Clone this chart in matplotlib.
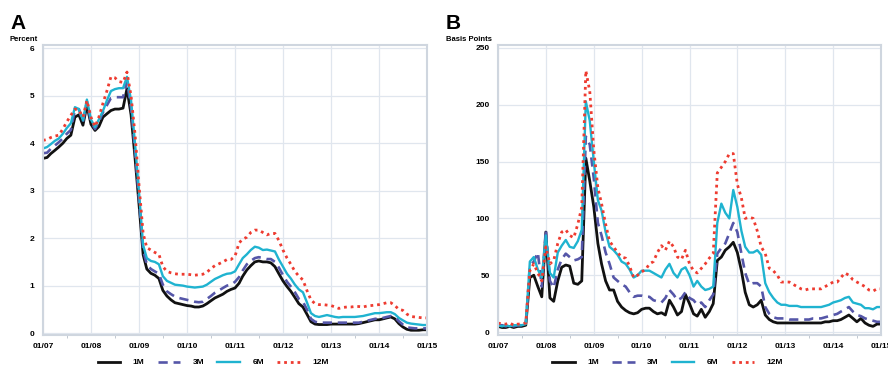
import numpy as np
import pandas as pd
import matplotlib
matplotlib.use("Agg")
import matplotlib.pyplot as plt
import matplotlib.dates as mdates

plt.rcParams['font.family'] = ['Liberation Sans', 'DejaVu Sans']

# monthly observations, Jan 2007 .. Jan 2015
dates = pd.date_range("2007-01-01", "2015-01-01", freq="MS")

# Panel A: rates, percent
a_1m = [3.68, 3.70, 3.78, 3.85, 3.92, 4.00, 4.10, 4.17, 4.55, 4.60, 4.38, 4.80,
        4.40, 4.27, 4.35, 4.55, 4.62, 4.69, 4.72, 4.72, 4.74, 5.15, 4.60, 3.70,
        2.70, 1.65, 1.35, 1.26, 1.22, 1.15, 0.90, 0.78, 0.70, 0.64, 0.62, 0.60,
        0.58, 0.57, 0.55, 0.55, 0.57, 0.62, 0.68, 0.74, 0.78, 0.82, 0.88, 0.92,
        0.95, 1.05, 1.20, 1.33, 1.42, 1.50, 1.52, 1.50, 1.50, 1.48, 1.40, 1.25,
        1.10, 0.98, 0.88, 0.75, 0.62, 0.55, 0.40, 0.24, 0.19, 0.18, 0.18, 0.18,
        0.19, 0.19, 0.19, 0.19, 0.19, 0.19, 0.19, 0.20, 0.22, 0.24, 0.26, 0.28,
        0.28, 0.30, 0.32, 0.34, 0.30, 0.20, 0.13, 0.08, 0.06, 0.06, 0.06, 0.07,
        0.07]
a_3m = [3.79, 3.80, 3.88, 3.95, 4.02, 4.10, 4.20, 4.28, 4.70, 4.72, 4.45, 4.88,
        4.45, 4.30, 4.45, 4.65, 4.80, 4.95, 4.97, 4.97, 4.97, 5.30, 4.75, 3.85,
        2.80, 1.75, 1.45, 1.35, 1.30, 1.25, 1.02, 0.88, 0.82, 0.77, 0.74, 0.72,
        0.70, 0.68, 0.66, 0.65, 0.66, 0.72, 0.78, 0.85, 0.90, 0.95, 1.00, 1.02,
        1.08, 1.18, 1.32, 1.45, 1.52, 1.58, 1.60, 1.58, 1.56, 1.56, 1.50, 1.38,
        1.22, 1.08, 0.98, 0.86, 0.72, 0.66, 0.50, 0.30, 0.24, 0.22, 0.22, 0.22,
        0.22, 0.22, 0.22, 0.22, 0.22, 0.22, 0.22, 0.22, 0.24, 0.26, 0.28, 0.30,
        0.31, 0.32, 0.34, 0.36, 0.34, 0.25, 0.18, 0.12, 0.11, 0.10, 0.10, 0.10,
        0.10]
a_6m = [3.89, 3.92, 3.98, 4.05, 4.10, 4.20, 4.32, 4.42, 4.76, 4.72, 4.48, 4.92,
        4.50, 4.34, 4.50, 4.68, 4.90, 5.10, 5.14, 5.16, 5.16, 5.40, 4.90, 4.00,
        2.95, 1.85, 1.58, 1.52, 1.50, 1.45, 1.20, 1.10, 1.06, 1.02, 1.01, 1.00,
        0.98, 0.97, 0.96, 0.97, 0.98, 1.02, 1.08, 1.14, 1.18, 1.22, 1.25, 1.26,
        1.30, 1.45, 1.58, 1.66, 1.75, 1.82, 1.80, 1.75, 1.76, 1.74, 1.72, 1.55,
        1.40, 1.25, 1.15, 1.02, 0.92, 0.86, 0.65, 0.42, 0.36, 0.34, 0.36, 0.38,
        0.36, 0.34, 0.33, 0.34, 0.34, 0.34, 0.34, 0.35, 0.36, 0.38, 0.40, 0.42,
        0.42, 0.43, 0.44, 0.44, 0.40, 0.32, 0.27, 0.22, 0.20, 0.19, 0.18, 0.17,
        0.17]
a_12m = [4.06, 4.08, 4.12, 4.15, 4.17, 4.30, 4.45, 4.59, 4.72, 4.70, 4.55, 4.90,
         4.55, 4.35, 4.55, 4.84, 5.10, 5.40, 5.38, 5.30, 5.28, 5.50, 5.00, 4.20,
         3.10, 2.10, 1.80, 1.75, 1.70, 1.66, 1.40, 1.30, 1.27, 1.25, 1.24, 1.24,
         1.24, 1.23, 1.22, 1.23, 1.24, 1.28, 1.36, 1.42, 1.46, 1.50, 1.55, 1.55,
         1.62, 1.90, 1.98, 2.02, 2.12, 2.17, 2.17, 2.12, 2.07, 2.10, 2.10, 1.95,
         1.75, 1.58, 1.45, 1.30, 1.20, 1.12, 0.90, 0.70, 0.62, 0.60, 0.60, 0.59,
         0.58, 0.55, 0.52, 0.54, 0.55, 0.55, 0.56, 0.56, 0.55, 0.57, 0.58, 0.59,
         0.60, 0.62, 0.64, 0.64, 0.58, 0.50, 0.48, 0.40, 0.35, 0.34, 0.33, 0.32,
         0.32]

# Panel B: spreads, basis points
b_1m = [5, 4, 4, 5, 4, 5, 5, 6, 48, 50, 40, 31,
        88, 30, 27, 45, 57, 59, 58, 43, 42, 45, 153, 133,
        110, 78, 60, 45, 37, 37, 27, 22, 19, 17, 16, 17,
        20, 21, 21, 18, 16, 17, 15, 28, 22, 15, 18, 33,
        25, 16, 14, 20, 13, 18, 25, 63, 66, 72, 75, 79,
        70, 54, 35, 24, 22, 24, 28, 15, 11, 9, 8, 8,
        8, 8, 8, 8, 8, 8, 8, 8, 8, 8, 9, 9,
        10, 10, 11, 13, 15, 12, 9, 12, 8, 6, 5, 7,
        7]
b_3m = [6, 6, 5, 6, 5, 6, 6, 7, 58, 62, 70, 40,
        90, 45, 39, 55, 64, 69, 66, 63, 64, 66, 172, 165,
        135, 96, 85, 70, 60, 48, 45, 42, 40, 35, 31, 32,
        32, 31, 31, 28, 27, 26, 30, 37, 33, 28, 30, 35,
        30, 28, 24, 26, 22, 28, 33, 69, 74, 78, 87, 96,
        88, 69, 52, 42, 43, 43, 40, 22, 16, 13, 12, 12,
        12, 11, 11, 11, 11, 11, 11, 12, 12, 12, 13, 14,
        15, 16, 18, 20, 22, 18, 15, 14, 12, 11, 10, 9,
        9]
b_6m = [6, 5, 6, 5, 6, 6, 6, 7, 62, 66, 55, 48,
        85, 52, 48, 70, 76, 81, 75, 74, 80, 90, 203, 186,
        150, 116, 107, 88, 75, 72, 68, 62, 60, 55, 48, 50,
        54, 54, 54, 52, 50, 48, 55, 60, 52, 48, 55, 57,
        50, 40, 45, 40, 37, 38, 40, 96, 113, 105, 100, 125,
        110, 89, 75, 70, 70, 72, 68, 43, 35, 30, 26, 24,
        24, 23, 23, 23, 22, 22, 22, 22, 22, 22, 23, 24,
        26, 27, 28, 30, 31, 26, 25, 24, 21, 21, 20, 22,
        22]
b_12m = [8, 7, 7, 8, 6, 7, 7, 8, 54, 60, 52, 45,
         75, 60, 63, 78, 88, 90, 85, 83, 95, 110, 230, 212,
         160, 127, 113, 95, 80, 75, 70, 66, 65, 58, 48, 50,
         53, 55, 60, 62, 70, 76, 72, 80, 75, 66, 64, 72,
         60, 54, 52, 56, 60, 65, 69, 140, 145, 150, 157, 157,
         130, 118, 100, 101, 100, 89, 75, 69, 56, 54, 50, 44,
         44, 44, 42, 40, 38, 37, 38, 38, 38, 38, 40, 42,
         44, 44, 48, 52, 50, 46, 44, 42, 40, 37, 36, 38,
         38]

labels = ["1M", "3M", "6M", "12M"]
colors = ["#111111", "#5556a8", "#1fb3d0", "#ee3b30"]
styles = [dict(ls="-", lw=2.0),
          dict(ls=(0, (3.5, 2.2)), lw=1.9),
          dict(ls="-", lw=1.7),
          dict(ls=(0, (1, 1.4)), lw=2.0)]

fig = plt.figure(figsize=(8.88, 3.67), dpi=100)
axA = fig.add_axes([43/888, 32/367, 384/888, 290/367])
axB = fig.add_axes([498/888, 32/367, 383/888, 290/367])

panels = [
    (axA, [a_1m, a_3m, a_6m, a_12m], (-0.04, 6.07), [0, 1, 2, 3, 4, 5, 6], "A", "Percent", 33),
    (axB, [b_1m, b_3m, b_6m, b_12m], (-2.6, 252.6), [0, 50, 100, 150, 200, 250], "B", "Basis Points", 52),
]

for ax, series, ylim, yt, letter, unit, off in panels:
    for vals, lab, c, st in zip(series, labels, colors, styles):
        ax.plot(dates, vals, color=c, label=lab, **st)
    ax.set_xlim(pd.Timestamp("2007-01-01"), pd.Timestamp("2015-01-01"))
    ax.set_ylim(*ylim)
    ax.set_yticks(yt)
    ax.xaxis.set_major_locator(mdates.YearLocator())
    ax.xaxis.set_major_formatter(mdates.DateFormatter("%m/%y"))
    ax.xaxis.set_minor_locator(mdates.MonthLocator(bymonth=7))
    ax.grid(True, which="major", color="#e0e6ee", lw=0.9)
    ax.set_axisbelow(True)
    ax.tick_params(axis="both", which="major", length=0, labelsize=6, pad=6)
    ax.tick_params(axis="x", which="minor", length=2, color="#b8c0ca", direction="out")
    for t in ax.get_xticklabels() + ax.get_yticklabels():
        t.set_fontweight("bold")
    for sp in ax.spines.values():
        sp.set_color("#cfd6df")
        sp.set_linewidth(1.5)
    bb = ax.get_position()
    fig.text(bb.x0 - off/888, 0.935, letter,
             fontsize=15, fontweight="bold", ha="left", va="center")
    fig.text(bb.x0 - off/888, 0.893, unit,
             fontsize=5.5, fontweight="bold", ha="left", va="center")
    leg = ax.legend(loc="center", bbox_to_anchor=(0.443, -0.095), ncol=4, frameon=False,
                    fontsize=6, handlelength=2.7, handletextpad=1.5, columnspacing=1.6)
    for t in leg.get_texts():
        t.set_fontweight("bold")

fig.savefig("out.png", dpi=100)
